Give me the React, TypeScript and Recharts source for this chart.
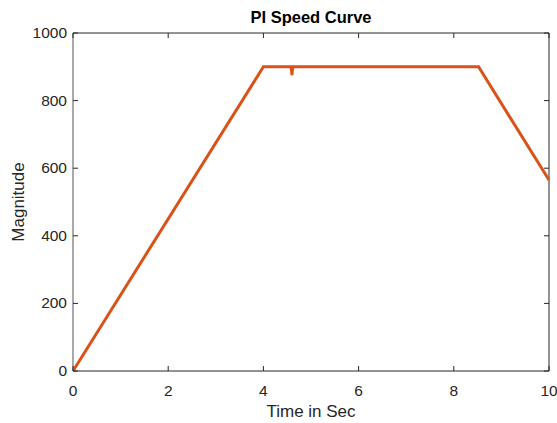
import { Label, Line, LineChart, ReferenceLine, XAxis, YAxis } from 'recharts';

// time (s) and speed samples
const timeSec = [0, 4, 4.58, 4.595, 4.6, 4.605, 4.62, 8.52, 10];
const speed = [0, 900, 900, 885, 875, 885, 900, 900, 565];

const xTicks = [0, 2, 4, 6, 8, 10];
const yTicks = [0, 200, 400, 600, 800, 1000];

const data = timeSec.map((t, i) => ({ t, v: speed[i] }));

const W = 557;
const H = 423;
const M = { top: 33, right: 8, bottom: 0, left: 0 };
const X_AXIS_H = 52;
const Y_AXIS_W = 73;
const PLOT_TOP = M.top;
const PLOT_BOTTOM = H - M.bottom - X_AXIS_H;
const PLOT_LEFT = M.left + Y_AXIS_W;
const PLOT_RIGHT = W - M.right;

const FONT = '"Liberation Sans", Arial, sans-serif';
const TEXT = '#262626';
const TICK_LEN = 5;

const BottomTick = (props: any) => {
  const { x, payload } = props;
  return (
    <g>
      <line x1={x} x2={x} y1={PLOT_BOTTOM} y2={PLOT_BOTTOM - TICK_LEN} stroke={TEXT} />
      <line x1={x} x2={x} y1={PLOT_TOP} y2={PLOT_TOP + TICK_LEN} stroke={TEXT} />
      <text x={x} y={PLOT_BOTTOM + 25} textAnchor="middle" fill={TEXT} fontSize={15.5} fontFamily={FONT}>
        {payload.value}
      </text>
    </g>
  );
};

const LeftTick = (props: any) => {
  const { y, payload } = props;
  return (
    <g>
      <line x1={PLOT_LEFT} x2={PLOT_LEFT + TICK_LEN} y1={y} y2={y} stroke={TEXT} />
      <line x1={PLOT_RIGHT} x2={PLOT_RIGHT - TICK_LEN} y1={y} y2={y} stroke={TEXT} />
      <text x={PLOT_LEFT - 6} y={y + 5} textAnchor="end" fill={TEXT} fontSize={15.5} fontFamily={FONT}>
        {payload.value}
      </text>
    </g>
  );
};

export default function App() {
  return (
    <div style={{ position: 'absolute', left: 0, top: 0, background: '#fff' }}>
      <LineChart width={W} height={H} data={data} margin={M}>
        <XAxis
          dataKey="t"
          type="number"
          domain={[0, 10]}
          ticks={xTicks}
          height={X_AXIS_H}
          tick={<BottomTick />}
          axisLine={{ stroke: TEXT }}
          tickLine={false}
        >
          <Label
            content={() => (
              <text
                x={(PLOT_LEFT + PLOT_RIGHT) / 2}
                y={PLOT_BOTTOM + 46}
                textAnchor="middle"
                fill={TEXT}
                fontSize={17}
                fontFamily={FONT}
              >
                Time in Sec
              </text>
            )}
          />
        </XAxis>
        <YAxis
          type="number"
          domain={[0, 1000]}
          ticks={yTicks}
          width={Y_AXIS_W}
          tick={<LeftTick />}
          axisLine={{ stroke: '#8c8c8c', strokeWidth: 1.5 }}
          tickLine={false}
        >
          <Label
            content={() => {
              const cx = 24;
              const cy = (PLOT_TOP + PLOT_BOTTOM) / 2;
              return (
                <text
                  x={cx}
                  y={cy}
                  transform={`rotate(-90 ${cx} ${cy})`}
                  textAnchor="middle"
                  fill={TEXT}
                  fontSize={17}
                  fontFamily={FONT}
                >
                  Magnitude
                </text>
              );
            }}
          />
        </YAxis>
        <ReferenceLine x={10} stroke={TEXT} strokeWidth={1} />
        <ReferenceLine y={1000} stroke={TEXT} strokeWidth={1}>
          <Label
            content={() => (
              <text
                x={(PLOT_LEFT + PLOT_RIGHT) / 2}
                y={PLOT_TOP - 10}
                textAnchor="middle"
                fill="#000"
                fontSize={16.5}
                fontWeight="bold"
                fontFamily={FONT}
              >
                PI Speed Curve
              </text>
            )}
          />
        </ReferenceLine>
        <Line
          dataKey="v"
          type="linear"
          stroke="#D95319"
          strokeWidth={3}
          dot={false}
          isAnimationActive={false}
        />
      </LineChart>
    </div>
  );
}
